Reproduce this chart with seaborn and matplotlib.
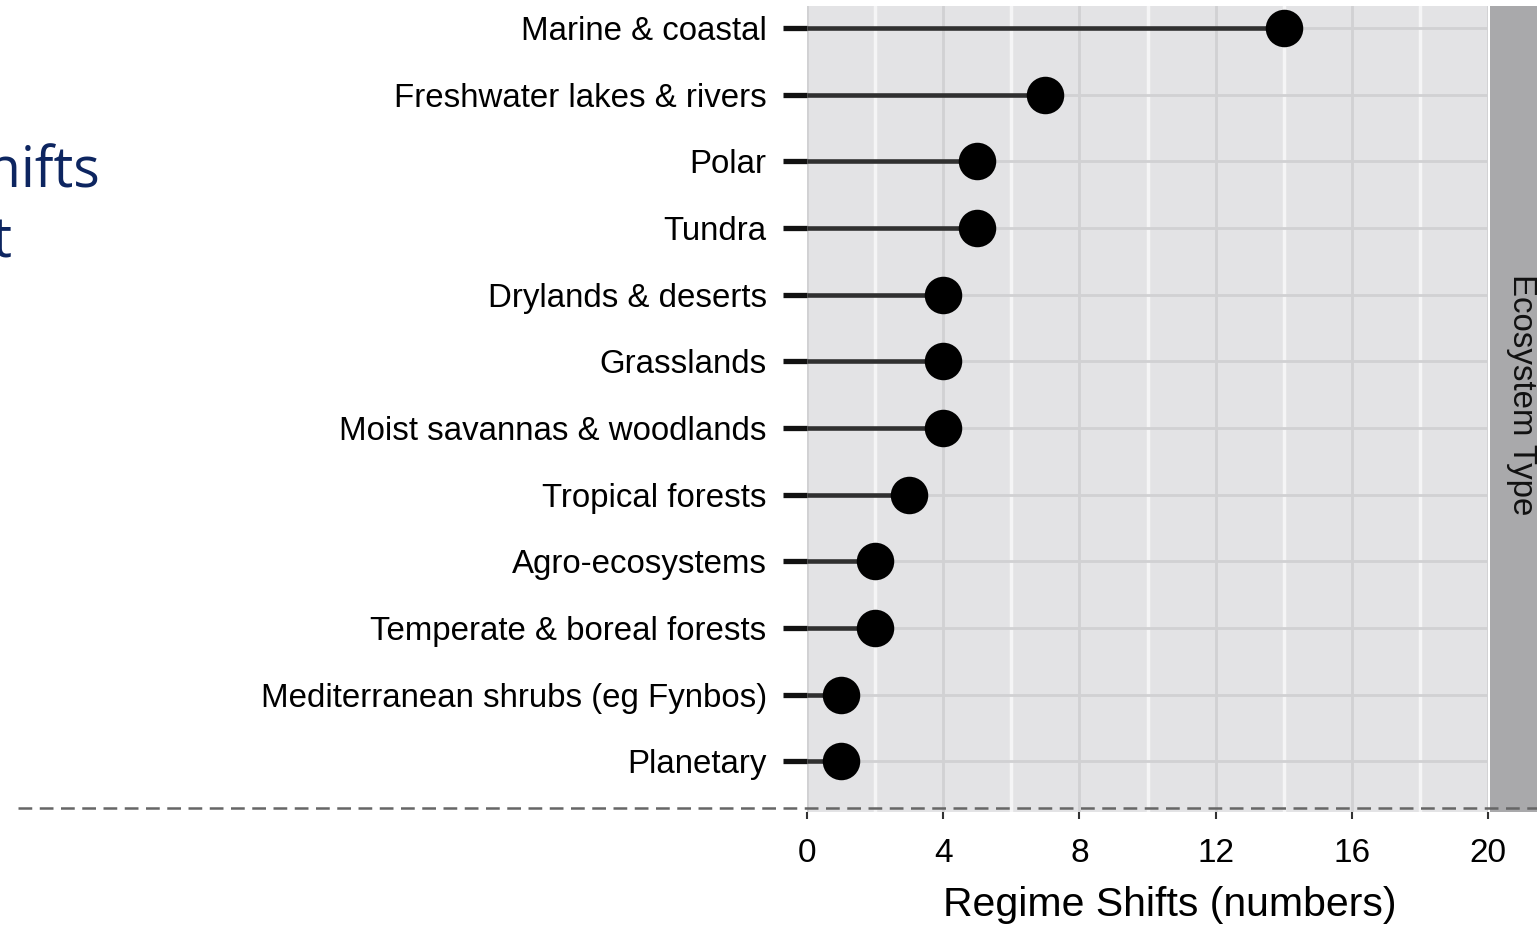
import matplotlib
matplotlib.use("Agg")
import matplotlib.pyplot as plt
import numpy as np
import pandas as pd
import seaborn as sns
from matplotlib.lines import Line2D
from matplotlib.ticker import MultipleLocator

ecosystems = [
    "Marine & coastal",
    "Freshwater lakes & rivers",
    "Polar",
    "Tundra",
    "Drylands & deserts",
    "Grasslands",
    "Moist savannas & woodlands",
    "Tropical forests",
    "Agro-ecosystems",
    "Temperate & boreal forests",
    "Mediterranean shrubs (eg Fynbos)",
    "Planetary",
]
regime_shifts = [14, 7, 5, 5, 4, 4, 4, 3, 2, 2, 1, 1]
x_ticks = [0, 4, 8, 12, 16, 20]
x_label = "Regime Shifts (numbers)"
facet_label = "Ecosystem Type"
slide_lines = ["Regime shifts", "by ecosystem type count: most frequent"]

W, H = 1537, 925
sns.set_style("whitegrid")
plt.rcParams["font.family"] = ["Liberation Sans", "DejaVu Sans"]

fig = plt.figure(figsize=(W / 100, H / 100), dpi=100)


def px_axes(left, top, right, bottom):
    return fig.add_axes([left / W, 1 - bottom / H, (right - left) / W, (bottom - top) / H])


df = pd.DataFrame({"ecosystem": ecosystems, "n": regime_shifts})

ax = px_axes(807, 6, 1488, 812)
ax.set_facecolor("#e3e3e5")
ax.hlines(y=np.arange(len(df)), xmin=0, xmax=df["n"], color="#303030", lw=3.3, zorder=3)
sns.stripplot(
    data=df, x="n", y="ecosystem", order=ecosystems, jitter=False,
    size=27, color="black", linewidth=0, ax=ax, zorder=4,
)
ax.set_xlim(0, 20)
ax.set_ylim(len(df) - 1 + 0.76, -0.33)
ax.set_xticks(x_ticks)
ax.set_xticklabels([str(t) for t in x_ticks])
ax.xaxis.set_minor_locator(MultipleLocator(2))
ax.set_axisbelow(True)
ax.grid(False)
ax.grid(which="major", axis="x", color="#d1d1d3", lw=2)
ax.grid(which="minor", axis="x", color="#f5f5f6", lw=2.5)
ax.grid(which="major", axis="y", color="#d1d1d3", lw=2)
for s in ax.spines.values():
    s.set_visible(False)
ax.tick_params(axis="y", left=True, length=17, width=3.8, color="#111111", pad=12,
               labelsize=23.8, labelcolor="black")
ax.tick_params(axis="x", which="major", bottom=True, length=5, width=1.5, color="#333333",
               pad=14, labelsize=24, labelcolor="black")
ax.tick_params(axis="x", which="minor", bottom=False, length=0)
for t in ax.get_yticklines():
    t.set_clip_on(False)
ax.set_ylabel("")
ax.set_xlabel(x_label, fontsize=29.5, color="black")
ax.xaxis.set_label_coords((1170 - 807) / (1488 - 807), -(905 - 812) / (812 - 6))
ax.xaxis.label.set_va("center")

strip = px_axes(1490, 6, 1560, 812)
strip.set_facecolor("#a9a9ab")
strip.set_xticks([])
strip.set_yticks([])
for s in strip.spines.values():
    s.set_visible(False)
fig.text(1521 / W, 1 - 395 / H, facet_label, rotation=270, ha="center", va="center",
         fontsize=23.8, color="#111111")

fig.add_artist(Line2D([18 / W, 1], [1 - 808 / H] * 2, transform=fig.transFigure,
                      color="#666666", lw=1.8, linestyle=(0, (5.5, 3))))

fig.text(100 / W, 1 - 187 / H, slide_lines[0], ha="right", va="baseline",
         fontsize=40, family=["Open Sans", "DejaVu Sans"], color="#0d2560")
fig.text(12 / W, 1 - 257 / H, slide_lines[1], ha="right", va="baseline",
         fontsize=40, family=["Open Sans", "DejaVu Sans"], color="#0d2560")

fig.savefig("out.png", dpi=100)
